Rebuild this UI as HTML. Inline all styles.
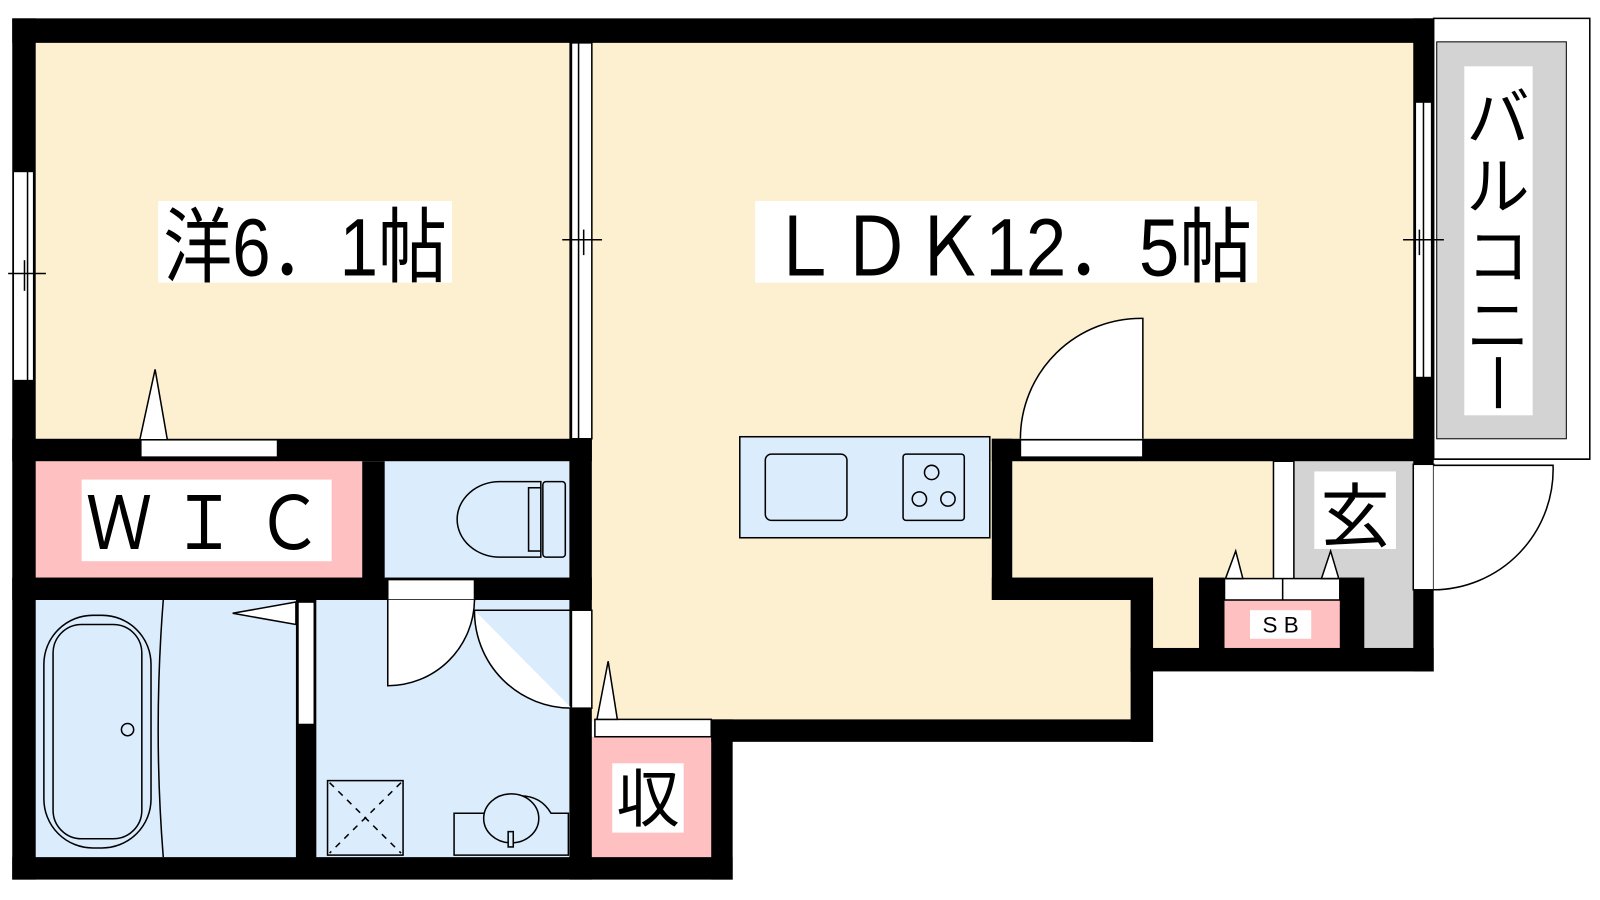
<!DOCTYPE html>
<html><head><meta charset="utf-8"><style>
html,body{margin:0;padding:0;background:#fff;width:1600px;height:900px;overflow:hidden}
svg{display:block}
text{font-family:"Liberation Sans","Noto Sans CJK JP",sans-serif;fill:#000}
</style></head><body>
<svg width="1600" height="900" viewBox="0 0 1568 882" preserveAspectRatio="none" xmlns="http://www.w3.org/2000/svg">
<!-- floors -->
<rect x="35" y="40" width="525" height="392" fill="#fdf0d0"/>
<rect x="580" y="40" width="807" height="392" fill="#fdf0d0"/>
<rect x="580" y="430" width="530" height="277" fill="#fdf0d0"/>
<rect x="990" y="450" width="260" height="186" fill="#fdf0d0"/>
<rect x="35" y="452" width="322" height="116" fill="#fec0c0"/>
<rect x="377" y="452" width="183" height="116" fill="#dbecfd"/>
<rect x="35" y="588" width="525" height="254" fill="#dbecfd"/>
<rect x="580" y="722" width="120" height="120" fill="#fec0c0"/>
<rect x="1268" y="452" width="120" height="184" fill="#d3d3d3"/>
<rect x="1200" y="588" width="114" height="48" fill="#fec0c0"/>
<!-- balcony -->
<rect x="1405" y="18" width="153" height="432" fill="#fff" stroke="#000" stroke-width="1.5"/>
<rect x="1408" y="41" width="127" height="389" fill="#d3d3d3" stroke="#000" stroke-width="1"/>
<rect x="1435" y="65" width="67" height="342" fill="#fff"/>
<text x="1468" y="137" font-size="62" text-anchor="middle">バ</text>
<text x="1468" y="205" font-size="62" text-anchor="middle">ル</text>
<text x="1468" y="273" font-size="62" text-anchor="middle">コ</text>
<text x="1468" y="341" font-size="62" text-anchor="middle">ニ</text>
<rect x="1466" y="350" width="5" height="50" fill="#000"/>
<!-- walls -->
<g fill="#000">
<rect x="12" y="18" width="1393" height="24"/>
<rect x="12" y="18" width="23" height="844"/>
<rect x="12" y="840" width="706" height="22"/>
<rect x="697" y="705" width="21" height="157"/>
<rect x="697" y="705" width="433" height="22"/>
<rect x="1108" y="578" width="22" height="149"/>
<rect x="972" y="430" width="433" height="22"/>
<rect x="972" y="430" width="20" height="158"/>
<rect x="972" y="566" width="158" height="22"/>
<rect x="1108" y="635" width="297" height="23"/>
<rect x="1385" y="18" width="20" height="640"/>
<rect x="1175" y="566" width="25" height="80"/>
<rect x="1313" y="566" width="24" height="80"/>
<rect x="558" y="40" width="22" height="822"/>
<rect x="12" y="430" width="568" height="22"/>
<rect x="355" y="452" width="22" height="136"/>
<rect x="12" y="566" width="568" height="22"/>
<rect x="290" y="588" width="20" height="254"/>
</g>
<g fill="#fff" stroke="#000" stroke-width="1.5">
<!-- windows -->
<rect x="13" y="168" width="20" height="205"/>
<line x1="27" y1="168" x2="27" y2="373"/>
<line x1="8" y1="268" x2="45" y2="268"/><line x1="24" y1="255" x2="24" y2="285"/>
<rect x="560" y="42" width="20" height="388"/>
<line x1="567" y1="42" x2="567" y2="430"/>
<line x1="551" y1="235" x2="590" y2="235"/><line x1="572" y1="225" x2="572" y2="250"/>
<rect x="1387" y="100" width="16" height="270"/>
<line x1="1395" y1="100" x2="1395" y2="370"/>
<line x1="1375" y1="235" x2="1415" y2="235"/><line x1="1391" y1="225" x2="1391" y2="250"/>
<!-- doors -->
<rect x="138" y="431" width="134" height="17"/>
<path d="M137 431 L152 362 L164 431 Z"/>
<rect x="1000" y="431" width="120" height="17"/>
<path d="M1000 430 A118 118 0 0 1 1120 312 L1120 430"/>
<rect x="380" y="568" width="85" height="20"/>
<path d="M380 588 L380 672 A85 85 0 0 0 465 588"/>
<path d="M465 598 A95 95 0 0 0 560 694"/>
<rect x="560" y="598" width="20" height="96"/>
<line x1="465" y1="598" x2="560" y2="598"/>
<rect x="292" y="590" width="16" height="120"/>
<path d="M290 590 L228 601 L290 612 Z"/>
<rect x="583" y="705" width="114" height="17"/>
<path d="M585 705 L596 648 L605 705 Z"/>
<rect x="1248" y="452" width="20" height="118"/>
<rect x="1200" y="567" width="113" height="21"/>
<line x1="1257" y1="567" x2="1257" y2="588"/>
<path d="M1201 567 L1211 540 L1218 567 Z"/>
<path d="M1295 567 L1304 540 L1312 567 Z"/>
<rect x="1385" y="455" width="20" height="123"/>
<path d="M1405 456 L1522 456 A118 118 0 0 1 1405 578"/>
<line x1="1405" y1="450" x2="1558" y2="450"/>
<!-- kitchen -->
<rect x="725" y="428" width="245" height="99" fill="#dbecfd"/>
<rect x="750" y="445" width="80" height="65" rx="6" fill="#dbecfd"/>
<rect x="885" y="445" width="60" height="65" rx="3" fill="#dbecfd"/>
<circle cx="913" cy="463" r="7" fill="none"/><circle cx="901" cy="489" r="7" fill="none"/><circle cx="929" cy="489" r="7" fill="none"/>
<!-- toilet -->
<path d="M530 472 L490 472 A42 37 0 0 0 490 546 L530 546 Z" fill="#dbecfd"/>
<rect x="518" y="478" width="12" height="62" fill="#dbecfd"/>
<rect x="532" y="472" width="22" height="74" rx="3" fill="#dbecfd"/>
<!-- bath -->
<path d="M160 588 Q150 715 160 840" fill="none"/>
<rect x="43" y="603" width="105" height="228" rx="48" fill="none"/>
<rect x="52" y="612" width="87" height="210" rx="28" fill="none"/>
<circle cx="125" cy="715" r="6" fill="none"/>
<!-- washroom -->
<rect x="321" y="765" width="74" height="73" fill="none"/>
<path d="M323 767 L393 836 M393 767 L323 836" stroke-dasharray="6 6" fill="none"/>
<path d="M445 797 L480 797 Q490 780 510 780 Q530 780 540 797 L557 797 L557 838 L445 838 Z" fill="#dbecfd"/>
<ellipse cx="501" cy="802" rx="27" ry="24" fill="#dbecfd"/>
<rect x="498" y="815" width="5" height="15" fill="#dbecfd"/>
</g>
<!-- labels -->
<rect x="155" y="197" width="288" height="80" fill="#fff"/>
<text x="160" y="270" font-size="80" textLength="278" lengthAdjust="spacingAndGlyphs">洋6．1帖</text>
<rect x="740" y="197" width="492" height="80" fill="#fff"/>
<text x="752" y="270" font-size="80" textLength="475" lengthAdjust="spacingAndGlyphs">ＬＤＫ12．5帖</text>
<rect x="80" y="470" width="245" height="80" fill="#fff"/>
<text x="84" y="538" font-size="72" textLength="232" lengthAdjust="spacingAndGlyphs">Ｗ Ｉ Ｃ</text>
<rect x="1288" y="462" width="80" height="76" fill="#fff"/>
<text x="1328" y="530" font-size="68" text-anchor="middle">玄</text>
<rect x="1225" y="598" width="60" height="28" fill="#fff"/>
<text x="1255" y="620" font-size="22" text-anchor="middle">S B</text>
<rect x="600" y="748" width="70" height="68" fill="#fff"/>
<text x="635" y="805" font-size="62" text-anchor="middle">収</text>
</svg>
</body></html>
